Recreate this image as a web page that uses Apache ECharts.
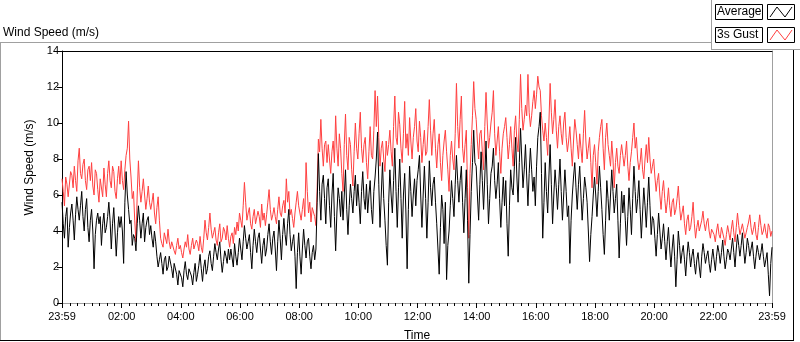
<!DOCTYPE html>
<html><head><meta charset="utf-8">
<script src="https://cdn.jsdelivr.net/npm/echarts@6/dist/echarts.min.js"></script>
<style>html,body{margin:0;padding:0;background:#fff}#c{width:800px;height:342px}</style>
</head><body><div id="c"></div>
<script>
// Sample times: minutes from midnight, starting at 23:59 of the previous day, every 2.5 minutes.
const sampleStartMinute = -1;
const sampleStepMinutes = 2.5;

// 3 s gust (m/s), one row per hour
const gustSpeed = [
  6.9,6.2,5.4,7.0,6.6,5.9,5.8,7.3,7.1,6.4,7.6,6.8,6.2,7.9,8.6,7.2,6.9,7.7,8.0,6.8,6.3,7.4,7.6,6.8,
  7.8,6.5,6.0,7.4,7.2,6.3,5.6,6.9,6.8,5.9,7.5,6.6,5.9,7.2,7.9,6.8,6.4,7.6,7.3,6.2,5.8,6.9,7.6,6.6,
  7.9,6.8,6.3,7.4,8.2,8.6,10.1,8.0,7.0,5.8,6.2,4.6,3.4,6.0,7.9,6.4,5.6,6.2,6.9,6.0,5.2,5.8,6.5,5.6,
  5.2,5.6,6.1,5.0,4.4,5.3,5.9,4.6,3.6,3.3,3.1,3.9,3.8,3.3,4.1,3.4,3.0,3.4,3.5,2.9,2.7,3.2,3.6,3.0,
  3.2,2.8,2.5,3.0,3.4,3.1,3.8,3.0,2.7,3.2,3.6,3.0,2.9,3.5,3.3,2.9,3.7,3.1,2.8,3.6,4.6,3.9,3.5,4.2,
  5.0,4.1,3.6,3.9,4.2,3.5,3.2,3.9,4.4,3.4,3.6,4.2,4.0,3.5,4.3,3.6,3.1,3.7,3.9,3.3,4.2,3.8,4.5,4.0,
  5.0,4.6,4.2,5.4,6.7,5.6,4.6,5.0,5.3,4.4,4.1,4.8,5.2,4.4,4.5,5.1,4.8,4.2,5.5,4.6,5.0,4.3,4.9,5.6,
  6.3,5.2,4.6,4.9,5.3,4.8,4.4,5.2,5.9,5.0,4.8,5.4,5.7,5.0,6.9,5.6,6.2,4.9,5.2,4.7,4.2,5.0,5.6,6.2,
  5.4,5.0,4.6,5.2,5.8,4.8,7.8,6.2,5.0,5.6,4.5,5.3,5.2,4.8,4.3,6.4,9.1,8.4,10.2,8.6,7.6,8.8,9.0,7.8,
  8.8,8.0,7.2,8.4,9.0,7.8,10.4,8.6,7.6,9.4,8.6,7.2,6.2,8.8,10.5,8.2,7.4,9.2,8.8,7.4,6.5,8.4,10.0,8.6,
  8.0,9.4,10.6,8.6,7.8,8.8,9.2,7.8,6.9,8.4,9.8,8.2,8.0,9.6,11.8,9.8,11.5,9.2,7.6,8.6,9.0,8.0,7.3,9.0,
  8.2,8.8,9.6,8.4,7.6,9.8,11.5,9.2,8.8,10.6,9.9,8.6,7.8,9.4,11.2,8.6,9.4,8.2,10.3,9.0,8.0,9.2,9.8,10.8,
  9.0,8.4,10.1,9.2,7.8,8.8,9.6,8.2,8.4,9.8,11.3,9.6,8.2,9.4,10.2,8.6,7.5,8.8,9.4,7.8,6.8,8.2,9.0,9.6,
  8.4,7.4,6.2,8.2,9.0,8.0,7.4,9.4,12.2,9.8,8.6,10.2,11.5,8.6,7.8,8.8,9.6,6.4,3.6,7.2,8.8,10.4,12.3,10.8,
  10.2,9.0,8.0,9.4,9.6,8.4,7.4,9.8,11.7,10.0,8.6,9.2,10.0,10.6,11.8,9.4,8.2,9.0,9.8,8.4,7.2,8.6,9.4,9.8,
  10.3,9.2,8.0,8.8,9.8,8.6,7.6,9.6,10.4,9.0,8.4,10.2,12.7,10.8,9.6,10.2,11.0,10.4,12.7,10.6,9.8,10.4,11.2,11.8,
  10.8,11.6,12.6,12.0,11.8,10.4,9.6,9.0,10.0,9.2,8.2,10.0,12.2,10.6,9.4,10.2,11.3,9.6,8.6,9.8,10.4,9.4,8.8,10.0,
  10.6,9.2,8.4,9.0,9.8,8.6,7.6,9.0,10.2,9.6,8.8,8.0,9.4,8.6,7.8,9.4,10.7,9.0,8.0,8.6,9.2,7.8,6.4,8.2,
  8.8,7.8,6.6,8.4,9.2,9.8,10.2,8.6,7.4,9.2,10.0,8.8,8.2,7.6,9.0,8.0,6.4,7.8,8.6,7.6,7.2,8.2,8.8,8.2,
  7.6,8.2,9.0,7.6,6.8,7.8,8.4,9.2,10.0,8.6,9.2,8.0,7.4,7.8,8.6,7.4,6.9,8.0,8.8,7.8,9.2,8.0,7.2,7.6,
  8.0,7.0,6.2,6.8,7.2,6.0,5.2,6.2,6.8,5.8,5.0,5.6,6.4,5.4,4.8,5.6,5.8,4.9,5.2,5.8,6.5,5.4,4.6,5.0,
  5.4,4.4,3.8,4.6,4.9,4.0,4.2,4.8,5.6,4.4,3.6,4.2,4.6,4.0,3.9,4.6,5.1,4.4,4.0,4.5,4.7,4.0,3.6,4.1,
  4.2,3.8,3.4,4.0,4.4,3.8,3.6,4.2,4.1,3.6,3.2,3.8,4.3,3.9,3.5,4.1,4.6,3.9,3.4,4.2,5.0,4.3,3.8,4.1,
  4.4,4.0,3.6,3.9,4.2,4.5,4.9,4.2,3.8,4.1,4.5,3.8,3.5,4.2,4.9,4.3,3.8,4.0,4.4,3.9,3.6,4.4,4.2,3.7,4.0
];

// Average wind speed (m/s), one row per hour
const averageSpeed = [
  5.6,4.4,3.6,4.8,5.3,3.1,4.2,5.0,5.5,4.6,3.5,4.9,5.9,5.2,4.6,5.4,6.2,4.8,4.0,5.2,5.8,4.2,3.4,4.6,
  5.2,4.0,1.9,3.8,4.6,5.0,4.4,4.8,3.2,4.4,5.0,3.9,4.2,4.8,5.6,4.6,3.0,4.4,5.3,4.0,2.6,3.9,4.8,4.2,
  4.8,4.0,2.2,5.6,7.3,6.0,5.2,4.4,4.6,3.2,3.8,3.6,2.9,4.4,5.4,4.6,3.6,4.4,5.0,3.4,4.2,4.6,4.8,3.8,
  4.3,3.6,3.1,4.0,3.4,2.6,2.0,2.4,2.8,2.2,1.6,2.4,2.6,1.8,2.0,2.6,2.5,1.9,1.4,2.2,2.3,1.6,1.0,1.8,
  1.9,1.4,0.9,1.8,2.3,1.6,1.3,1.9,2.0,1.5,1.0,1.7,2.2,1.2,1.6,2.1,2.7,1.9,1.2,2.0,2.4,1.6,1.9,2.6,
  2.9,2.2,1.8,2.6,3.3,2.8,2.4,3.0,3.4,2.4,1.7,2.3,2.9,2.6,2.2,3.0,2.4,3.0,2.5,2.0,3.3,2.6,2.1,2.8,
  3.6,3.0,2.4,3.4,4.3,3.6,3.0,3.4,3.8,2.8,1.9,3.2,4.1,3.4,2.8,3.6,3.9,3.0,2.2,3.2,3.6,2.6,3.0,3.8,
  4.4,3.4,2.7,3.6,4.0,3.0,1.8,3.4,4.6,3.6,2.4,3.8,4.7,3.8,3.2,4.4,5.2,3.8,2.9,3.4,3.8,2.6,0.8,2.8,
  3.9,2.6,1.6,3.0,4.1,3.2,2.5,3.4,3.6,2.6,1.9,2.8,3.2,2.4,3.0,5.6,8.3,6.2,4.6,6.6,7.1,5.8,4.4,6.4,
  6.9,5.4,4.2,6.0,7.2,4.8,2.9,5.0,6.4,5.8,4.8,6.2,4.6,6.0,7.4,5.2,3.8,5.4,6.6,5.8,5.0,6.2,7.1,5.4,
  6.6,5.6,4.4,6.2,7.3,5.8,5.2,6.6,5.0,6.0,6.8,5.2,4.4,6.2,7.0,8.0,9.5,6.6,4.2,6.0,7.8,5.8,4.6,3.2,
  2.1,5.6,7.4,6.0,5.0,6.8,8.6,6.2,4.2,6.4,8.0,5.8,3.6,6.0,7.2,5.0,1.9,5.2,7.6,6.2,4.8,6.0,6.9,5.4,
  6.8,7.4,8.2,6.0,4.2,6.0,7.6,5.8,3.6,5.6,7.9,6.4,5.4,6.6,7.0,5.6,4.4,3.0,1.6,4.2,6.0,5.2,3.3,5.6,
  1.3,3.2,4.0,5.4,6.8,5.8,4.8,6.6,8.2,6.8,5.6,6.8,7.6,5.6,3.9,5.8,7.4,4.6,1.1,3.8,6.2,7.8,9.6,7.8,
  7.6,6.0,4.6,6.6,8.4,6.8,5.2,7.0,9.0,6.6,4.4,5.8,7.2,7.6,8.6,6.8,5.8,6.6,7.8,5.8,4.2,5.6,7.0,5.4,
  6.8,4.4,2.6,5.4,7.4,6.4,6.0,7.6,9.2,7.0,5.6,7.8,9.7,8.0,6.4,7.4,8.8,7.0,5.4,7.2,8.6,7.4,6.2,7.0,
  5.4,7.6,9.2,9.8,10.6,7.2,3.6,5.6,7.8,6.2,5.0,7.0,8.8,6.6,4.4,6.0,7.4,6.4,5.2,6.6,8.0,6.2,4.6,6.0,
  7.4,6.2,4.8,5.4,2.2,4.6,6.0,7.0,7.8,6.4,5.2,6.6,7.6,6.0,4.6,5.8,7.0,6.4,5.6,4.0,2.3,3.8,4.8,6.0,
  7.0,6.0,4.8,6.2,7.6,6.4,5.2,3.8,2.7,4.6,6.8,5.8,4.6,6.0,7.4,6.2,5.0,5.8,6.6,4.6,2.5,4.4,6.2,5.0,
  6.0,4.6,3.2,4.8,6.4,5.2,3.8,5.8,7.6,6.2,5.0,5.8,6.8,5.2,3.6,5.0,6.4,5.4,4.2,5.6,7.0,5.4,3.8,4.8,
  4.6,3.6,2.6,3.8,5.0,4.0,3.0,3.6,4.4,3.4,2.4,3.4,4.2,3.0,2.0,3.0,3.8,2.6,0.9,2.4,4.0,3.2,2.2,2.8,
  3.2,2.4,1.5,2.6,3.4,2.8,2.0,2.6,3.0,2.2,1.6,2.4,2.8,2.0,1.4,2.6,3.3,2.8,2.2,2.6,2.9,2.2,1.7,2.4,
  3.0,2.4,1.8,2.6,3.2,2.8,2.2,2.8,3.5,2.6,1.9,2.4,3.0,2.8,2.4,3.0,3.6,2.8,2.0,3.0,3.8,3.2,2.6,3.2,
  3.9,3.0,2.2,2.8,3.6,3.2,2.6,3.0,3.4,2.6,1.9,2.6,3.2,2.8,2.4,2.8,3.3,2.6,2.0,2.4,2.8,1.6,0.4,2.2,3.1
];

// Axis ticks (minutes from midnight) and their labels
const majorTickMinutes = [-1,120,240,360,480,600,720,840,960,1080,1200,1320,1439];
const tickLabels = ['23:59','02:00','04:00','06:00','08:00','10:00','12:00','14:00','16:00','18:00','20:00','22:00','23:59'];

const FONT = 'Liberation Sans';
const minorTickMinutes = [];
for (let m = 15; m < 1439; m += 15) if (m % 120 !== 0) minorTickMinutes.push(m);

const toPairs = arr => arr.map((v, i) => [sampleStartMinute + i * sampleStepMinutes, v]);
const labelFor = v => { const i = majorTickMinutes.indexOf(v); return i >= 0 ? tickLabels[i] : ''; };

const chart = echarts.init(document.getElementById('c'), null, {renderer: 'canvas'});
const grey = '#a0a0a0';
chart.setOption({
  animation: false,
  backgroundColor: '#fff',
  title: {text: 'Wind Speed (m/s)', left: 3, top: 27, padding: 0,
    textStyle: {fontFamily: FONT, fontSize: 12, fontWeight: 'normal', color: '#000'}},
  grid: {left: 62, right: 28, top: 51, bottom: 39, containLabel: false, outerBoundsMode: 'none'},
  xAxis: [
    {type: 'value', gridIndex: 0, position: 'bottom', min: -1, max: 1439,
      name: 'Time', nameLocation: 'middle', nameGap: 27,
      nameTextStyle: {fontFamily: FONT, fontSize: 12, color: '#000'},
      axisLine: {show: true, onZero: false, lineStyle: {color: grey, width: 1}},
      axisTick: {show: true, length: 5, customValues: majorTickMinutes, lineStyle: {color: '#000'}},
      axisLabel: {show: true, customValues: majorTickMinutes, formatter: labelFor, margin: 8,
        fontFamily: FONT, fontSize: 11, color: '#000', showMinLabel: true, showMaxLabel: true},
      splitLine: {show: false}},
    {type: 'value', gridIndex: 0, position: 'bottom', min: -1, max: 1439,
      axisLine: {show: false, onZero: false},
      axisTick: {show: true, length: 3, customValues: minorTickMinutes, lineStyle: {color: '#000'}},
      axisLabel: {show: false}, splitLine: {show: false}},
    {type: 'value', gridIndex: 0, position: 'top', min: -1, max: 1439,
      axisLine: {show: true, onZero: false, lineStyle: {color: '#000'}},
      axisTick: {show: false}, axisLabel: {show: false}, splitLine: {show: false}}
  ],
  yAxis: [
    {type: 'value', min: 0, max: 14, interval: 2, position: 'left',
      name: 'Wind Speed (m/s)', nameLocation: 'middle', nameGap: 24,
      nameTextStyle: {fontFamily: FONT, fontSize: 12, color: '#000', padding: [0, 0, 0, 19]},
      axisLine: {show: true, onZero: false, lineStyle: {color: '#000'}},
      axisTick: {show: true, length: 5, lineStyle: {color: '#000'}},
      axisLabel: {margin: 3, fontFamily: FONT, fontSize: 11, color: '#000'},
      splitLine: {show: false}},
    {type: 'value', min: 0, max: 14, position: 'right',
      axisLine: {show: true, onZero: false, lineStyle: {color: grey}},
      axisTick: {show: false}, axisLabel: {show: false}, splitLine: {show: false}}
  ],
  series: [
    {name: '3s Gust', type: 'line', xAxisIndex: 0, yAxisIndex: 0, data: toPairs(gustSpeed),
      showSymbol: false, symbol: 'none', lineStyle: {color: '#ff4040', width: 1}, z: 2},
    {name: 'Average', type: 'line', xAxisIndex: 0, yAxisIndex: 0, data: toPairs(averageSpeed),
      showSymbol: false, symbol: 'none', lineStyle: {color: '#000', width: 1}, z: 3}
  ],
  graphic: [
    // outer panel frame
    {type: 'line', shape: {x1: 0, y1: 42.5, x2: 712, y2: 42.5}, style: {stroke: grey, lineWidth: 1}},
    {type: 'line', shape: {x1: 0.5, y1: 42, x2: 0.5, y2: 341}, style: {stroke: grey, lineWidth: 1}},
    {type: 'line', shape: {x1: 0, y1: 340.5, x2: 794, y2: 340.5}, style: {stroke: '#000', lineWidth: 1}},
    {type: 'line', shape: {x1: 793.5, y1: 49, x2: 793.5, y2: 341}, style: {stroke: '#000', lineWidth: 1}},
    // legend panel
    {type: 'line', shape: {x1: 711.5, y1: 0, x2: 711.5, y2: 49}, style: {stroke: grey, lineWidth: 1}},
    {type: 'line', shape: {x1: 711, y1: 49.5, x2: 800, y2: 49.5}, style: {stroke: grey, lineWidth: 1}},
    {type: 'rect', shape: {x: 715.5, y: 4.5, width: 47, height: 15}, style: {fill: '#fff', stroke: '#000', lineWidth: 1}},
    {type: 'text', x: 717, y: 12, style: {text: 'Average', fontFamily: FONT, fontSize: 12, fill: '#000', verticalAlign: 'middle'}},
    {type: 'rect', shape: {x: 767.5, y: 4.5, width: 27, height: 15}, style: {fill: '#fff', stroke: '#000', lineWidth: 1}},
    {type: 'polyline', shape: {points: [[770, 17], [777, 7], [785, 17], [792, 7]]}, style: {stroke: '#000', lineWidth: 1, fill: null}},
    {type: 'rect', shape: {x: 715.5, y: 27.5, width: 47, height: 15}, style: {fill: '#fff', stroke: '#000', lineWidth: 1}},
    {type: 'text', x: 717, y: 35, style: {text: '3s Gust', fontFamily: FONT, fontSize: 12, fill: '#000', verticalAlign: 'middle'}},
    {type: 'rect', shape: {x: 767.5, y: 27.5, width: 27, height: 15}, style: {fill: '#fff', stroke: '#000', lineWidth: 1}},
    {type: 'polyline', shape: {points: [[770, 40], [777, 30], [785, 40], [792, 30]]}, style: {stroke: '#ff4040', lineWidth: 1, fill: null}}
  ]
});
</script></body></html>
